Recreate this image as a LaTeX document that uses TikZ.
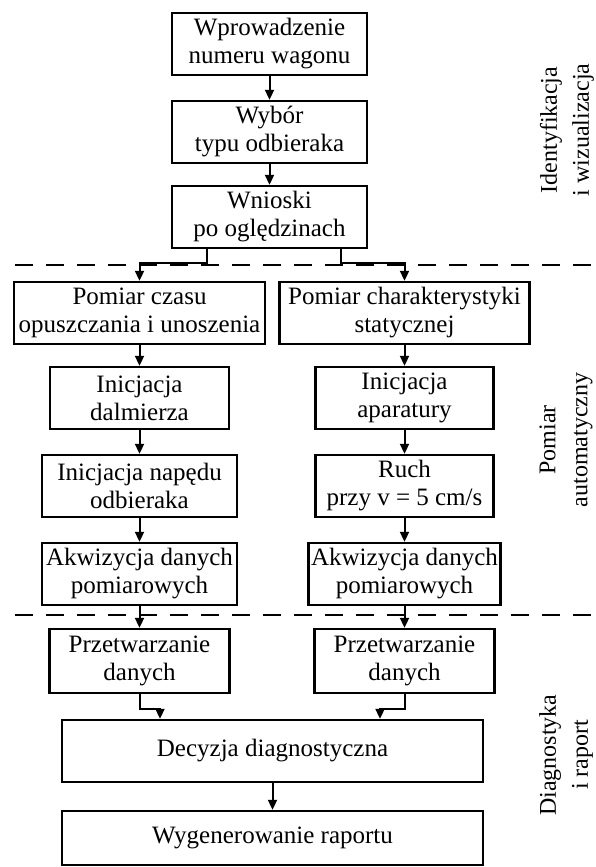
\documentclass[tikz,border=0pt]{standalone}
\usepackage{fontspec}
\setmainfont{Liberation Serif}
\usetikzlibrary{arrows.meta,calc}
\begin{document}
\begin{tikzpicture}[x=1pt,y=-1pt,
  box/.style={draw=black,line width=2.4pt,rectangle,align=center,inner sep=2pt,
    minimum height=62pt,font=\fontsize{25}{28}\selectfont},
  arr/.style={line width=2pt,-{Triangle[length=10pt,width=9pt]}},
  sep/.style={line width=2.6pt,dash pattern=on 18pt off 13pt},
  side/.style={rotate=90,align=center,font=\fontsize{24}{32}\selectfont}]
\useasboundingbox (0,0) rectangle (595,867);
% top section
\node[box,minimum width=195pt] (b1) at (269.5,44) {Wprowadzenie\\numeru wagonu};
\node[box,minimum width=195pt] (b2) at (269.5,132) {Wybór\\typu odbieraka};
\node[box,minimum width=195pt] (b3) at (269.5,217) {Wnioski\\po oględzinach};
% middle section
\node[box,minimum width=251pt] (l1) at (139.5,313) {Pomiar czasu\\opuszczania i unoszenia};
\node[box,minimum width=250pt] (r1) at (404.5,313) {Pomiar charakterystyki\\statycznej};
\node[box,minimum width=179pt] (l2) at (139.5,398) {Inicjacja\\dalmierza};
\node[box,minimum width=178pt] (r2) at (404.5,398) {Inicjacja\\aparatury};
\node[box,minimum width=195pt] (l3) at (139.5,486) {Inicjacja napędu\\odbieraka};
\node[box,minimum width=178pt] (r3) at (404.5,486) {Ruch\\przy v = 5 cm/s};
\node[box,minimum width=195pt] (l4) at (139.5,574) {Akwizycja danych\\pomiarowych};
\node[box,minimum width=192pt] (r4) at (404.5,574) {Akwizycja danych\\pomiarowych};
% bottom section
\node[box,minimum width=180pt,minimum height=64pt] (l5) at (139.5,661) {Przetwarzanie\\danych};
\node[box,minimum width=180pt,minimum height=64pt] (r5) at (404.5,661) {Przetwarzanie\\danych};
\node[box,minimum width=421pt] (dec) at (272.5,751) {Decyzja diagnostyczna};
\node[box,minimum width=421pt,minimum height=54pt] (rap) at (272.5,838) {Wygenerowanie raportu};
% separators
\coordinate (s1a) at (15,265); \coordinate (s1b) at (592,265);
\coordinate (s2a) at (15,615); \coordinate (s2b) at (592,615);
\draw[sep] (s1a) -- (s1b);
\draw[sep] (s2a) -- (s2b);
% connectors
\draw[arr] (b1) -- (b2);
\draw[arr] (b2) -- (b3);
\draw[arr] ([xshift=-62.5pt]b3.south) -- ++(0,14) -| (l1.north);
\draw[arr] ([xshift=71.5pt]b3.south) -- ++(0,14) -| (r1.north);
\draw[arr] (l1) -- (l2);
\draw[arr] (l2) -- (l3);
\draw[arr] (l3) -- (l4);
\draw[arr] (l4) -- (l5);
\draw[arr] (r1) -- (r2);
\draw[arr] (r2) -- (r3);
\draw[arr] (r3) -- (r4);
\draw[arr] (r4) -- (r5);
\draw[arr] (l5.south) -- ++(0,15) -| ([xshift=-112.5pt]dec.north);
\draw[arr] (r5.south) -- ++(0,15) -| ([xshift=107.5pt]dec.north);
\draw[arr] (dec) -- (rap);
% side labels
\node[side] (t1) at (567,130) {Identyfikacja\\i wizualizacja};
\node[side] (t2) at (566,440) {Pomiar\\automatyczny};
\node[side] (t3) at (566,755) {Diagnostyka\\i raport};
\end{tikzpicture}
\end{document}
